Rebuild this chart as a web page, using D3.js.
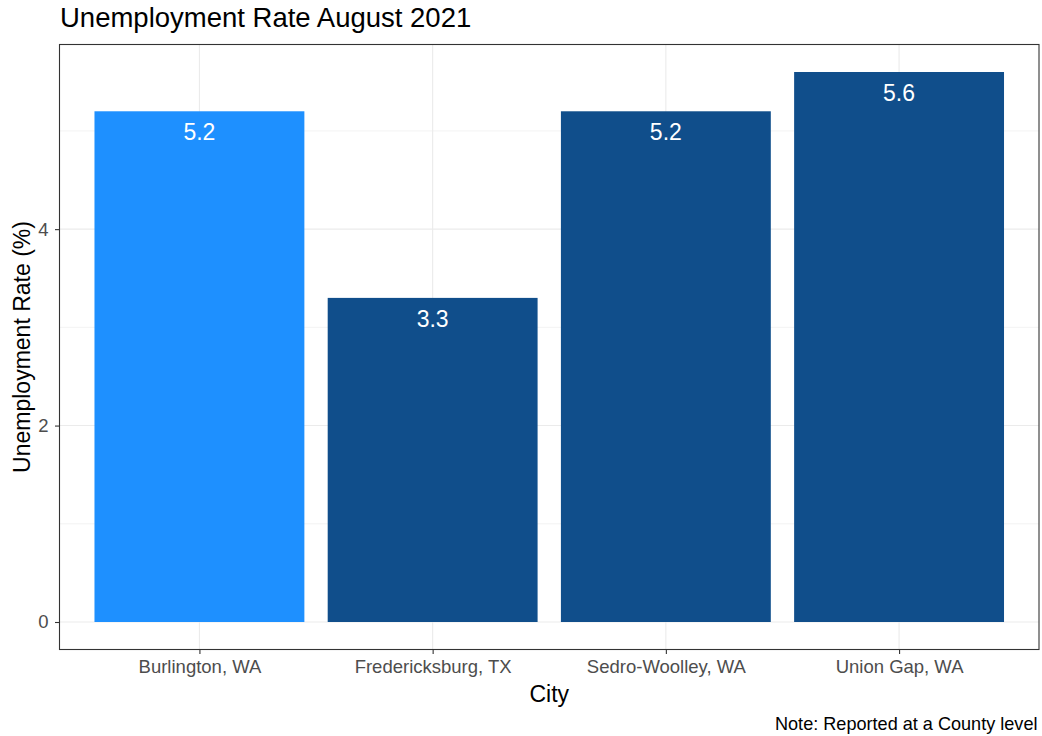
<!DOCTYPE html>
<html>
<head>
<meta charset="utf-8">
<script src="https://cdn.jsdelivr.net/npm/d3@7"></script>
<style>
body { margin: 0; background: #fff; }
text { font-family: "Liberation Sans", Arial, sans-serif; }
</style>
</head>
<body>
<svg id="chart" width="1042" height="736"></svg>
<script>
const cities = ["Burlington, WA", "Fredericksburg, TX", "Sedro-Woolley, WA", "Union Gap, WA"];
const rates = [5.2, 3.3, 5.2, 5.6];
const highlight = [true, false, false, false];
const yTicks = [0, 2, 4];
const yMinor = [1, 3, 5];
const title = "Unemployment Rate August 2021";
const xTitle = "City";
const yTitle = "Unemployment Rate (%)";
const caption = "Note: Reported at a County level";

(function () {
const svg = d3.select("#chart");
const pL = 59.5, pR = 1039, pT = 44.5, pB = 649.5;
const ff = "Liberation Sans, Arial, sans-serif";

const maxV = d3.max(rates);
const exp = maxV * 0.05;
const y = d3.scaleLinear().domain([-exp, maxV + exp]).range([pB, pT]);

const n = cities.length;
const step = (pR - pL) / (n - 1 + 1.2);
const x = d3.scalePoint().domain(cities).range([pL + 0.6 * step, pR - 0.6 * step]);
const barW = step * 0.9;

svg.append("rect").attr("x", pL).attr("y", pT).attr("width", pR - pL).attr("height", pB - pT).attr("fill", "#fff");

// minor grid
svg.append("g").selectAll("line").data(yMinor).join("line")
  .attr("x1", pL).attr("x2", pR)
  .attr("y1", d => y(d)).attr("y2", d => y(d))
  .attr("stroke", "#EBEBEB").attr("stroke-width", 0.6);
// major grid
svg.append("g").selectAll("line").data(yTicks).join("line")
  .attr("x1", pL).attr("x2", pR)
  .attr("y1", d => y(d)).attr("y2", d => y(d))
  .attr("stroke", "#EBEBEB").attr("stroke-width", 1.1);
svg.append("g").selectAll("line").data(cities).join("line")
  .attr("x1", d => x(d)).attr("x2", d => x(d))
  .attr("y1", pT).attr("y2", pB)
  .attr("stroke", "#EBEBEB").attr("stroke-width", 1.1);

// bars
svg.append("g").selectAll("rect").data(cities).join("rect")
  .attr("x", d => x(d) - barW / 2)
  .attr("width", barW)
  .attr("y", (d, i) => y(rates[i]))
  .attr("height", (d, i) => y(0) - y(rates[i]))
  .attr("fill", (d, i) => highlight[i] ? "#1E90FF" : "#104E8B");

// value labels
svg.append("g").selectAll("text").data(cities).join("text")
  .attr("x", d => x(d))
  .attr("y", (d, i) => y(rates[i]) + 29)
  .attr("text-anchor", "middle")
  .attr("fill", "#fff")
  .attr("font-size", 23)
  .text((d, i) => rates[i].toFixed(1));

// panel border
svg.append("rect").attr("x", pL).attr("y", pT).attr("width", pR - pL).attr("height", pB - pT)
  .attr("fill", "none").attr("stroke", "#333333").attr("stroke-width", 1.1);

// y axis
const yAxis = d3.axisLeft(y).tickValues(yTicks).tickSize(4.5).tickPadding(6.5).tickFormat(d3.format("d"));
const gy = svg.append("g").attr("transform", `translate(${pL},0)`).call(yAxis);
gy.select(".domain").remove();
gy.selectAll(".tick line").attr("stroke", "#333333").attr("stroke-width", 1.1);
gy.selectAll(".tick text").attr("fill", "#4D4D4D").attr("font-size", 18.5).attr("font-family", ff);

// x axis
const xAxis = d3.axisBottom(x).tickSize(4.5).tickPadding(6.3);
const gx = svg.append("g").attr("transform", `translate(0,${pB})`).call(xAxis);
gx.select(".domain").remove();
gx.selectAll(".tick line").attr("stroke", "#333333").attr("stroke-width", 1.1);
gx.selectAll(".tick text").attr("fill", "#4D4D4D").attr("font-size", 18.5).attr("font-family", ff);

// titles
svg.append("text").attr("x", 60).attr("y", 27.3).attr("font-size", 27.5).attr("fill", "#000").text(title);
svg.append("text").attr("x", (pL + pR) / 2).attr("y", 701.7).attr("text-anchor", "middle")
  .attr("font-size", 23).attr("fill", "#000").text(xTitle);
svg.append("text").attr("transform", `translate(29.5,${(pT + pB) / 2}) rotate(-90)`)
  .attr("text-anchor", "middle").attr("font-size", 23).attr("fill", "#000").text(yTitle);
svg.append("text").attr("x", 1037.5).attr("y", 730).attr("text-anchor", "end")
  .attr("font-size", 18.1).attr("fill", "#000").text(caption);
})();
</script>
</body>
</html>
